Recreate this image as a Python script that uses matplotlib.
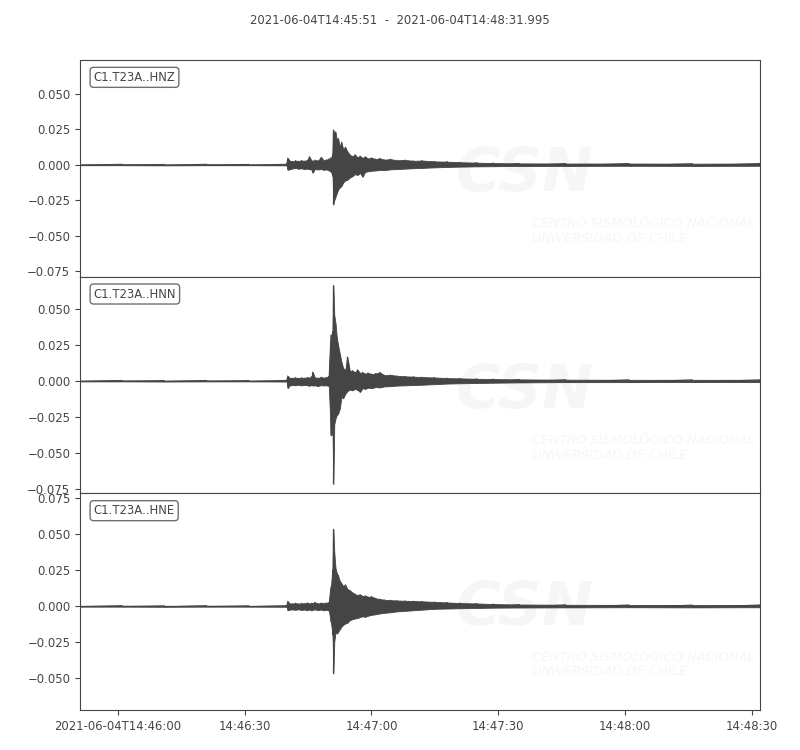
from datetime import datetime, timedelta

import matplotlib

matplotlib.use("Agg")
import matplotlib.dates as mdates
import matplotlib.pyplot as plt
import numpy as np
from matplotlib.ticker import FuncFormatter, MultipleLocator

# trace start and the knots of the envelope (seconds from start)
start_time = datetime(2021, 6, 4, 14, 45, 51)
title_text = "2021-06-04T14:45:51  -  2021-06-04T14:48:31.995"
channels = ["C1.T23A..HNZ", "C1.T23A..HNN", "C1.T23A..HNE"]

knot_seconds = [
    0, 10, 20, 30, 40, 48.9, 49.2, 49.6, 50.3, 51.0, 51.7, 52.4, 53.1, 53.8,
    54.3, 54.8, 55.1, 55.6, 56.3, 57.1, 57.7, 58.3, 58.9, 59.4, 59.8, 60.0,
    60.2, 60.5, 60.8, 61.1, 61.5, 61.9, 62.3, 62.8, 63.3, 63.9, 64.5, 65.1,
    65.7, 66.3, 66.9, 67.5, 68.2, 69.0, 70.0, 71.0, 72.0, 73.5, 75.0, 77.0,
    79.0, 81.0, 84.0, 87.0, 90.0, 94.0, 98.0, 104.0, 115.0, 130.0, 145.0, 161.0,
]

hnz_upper = [
    0.0003, 0.0004, 0.0003, 0.0004, 0.0003, 0.0004, 0.0048, 0.0030, 0.0024, 0.0030,
    0.0026, 0.0031, 0.0027, 0.0033, 0.0058, 0.0030, 0.0028, 0.0034, 0.0029, 0.0054,
    0.0031, 0.0036, 0.0042, 0.0050, 0.0070, 0.0246, 0.0215, 0.0232, 0.0170, 0.0188,
    0.0130, 0.0160, 0.0110, 0.0125, 0.0094, 0.0070, 0.0060, 0.0072, 0.0052, 0.0062,
    0.0048, 0.0058, 0.0044, 0.0050, 0.0040, 0.0046, 0.0036, 0.0040, 0.0032, 0.0034,
    0.0028, 0.0030, 0.0024, 0.0022, 0.0018, 0.0015, 0.0012, 0.0010, 0.0009, 0.0009,
    0.0008, 0.0009,
]
hnz_lower = [
    -0.0003, -0.0003, -0.0004, -0.0003, -0.0003, -0.0004, -0.0036, -0.0032, -0.0026, -0.0022,
    -0.0028, -0.0025, -0.0030, -0.0027, -0.0031, -0.0034, -0.0056, -0.0029, -0.0033, -0.0030,
    -0.0036, -0.0032, -0.0040, -0.0048, -0.0080, -0.0280, -0.0250, -0.0225, -0.0200, -0.0175,
    -0.0160, -0.0150, -0.0125, -0.0110, -0.0106, -0.0090, -0.0080, -0.0066, -0.0072, -0.0058,
    -0.0085, -0.0050, -0.0046, -0.0042, -0.0040, -0.0036, -0.0038, -0.0032, -0.0030, -0.0027,
    -0.0024, -0.0022, -0.0018, -0.0015, -0.0013, -0.0011, -0.0010, -0.0008, -0.0008, -0.0007,
    -0.0008, -0.0007,
]

hnn_upper = [
    0.0003, 0.0004, 0.0003, 0.0004, 0.0003, 0.0004, 0.0035, 0.0022, 0.0020, 0.0024,
    0.0019, 0.0023, 0.0021, 0.0025, 0.0022, 0.0030, 0.0062, 0.0024, 0.0021, 0.0027,
    0.0022, 0.0026, 0.0030, 0.0317, 0.0340, 0.0660, 0.0456, 0.0400, 0.0300, 0.0250,
    0.0190, 0.0132, 0.0090, 0.0075, 0.0167, 0.0068, 0.0072, 0.0060, 0.0078, 0.0055,
    0.0060, 0.0050, 0.0056, 0.0048, 0.0052, 0.0060, 0.0040, 0.0042, 0.0036, 0.0032,
    0.0030, 0.0027, 0.0024, 0.0020, 0.0018, 0.0015, 0.0013, 0.0011, 0.0009, 0.0008,
    0.0008, 0.0008,
]
hnn_lower = [
    -0.0003, -0.0003, -0.0004, -0.0003, -0.0003, -0.0004, -0.0049, -0.0032, -0.0028, -0.0030,
    -0.0026, -0.0031, -0.0027, -0.0030, -0.0033, -0.0028, -0.0032, -0.0030, -0.0035, -0.0029,
    -0.0031, -0.0030, -0.0034, -0.0377, -0.0360, -0.0713, -0.0300, -0.0260, -0.0235, -0.0227,
    -0.0192, -0.0110, -0.0120, -0.0090, -0.0070, -0.0060, -0.0065, -0.0055, -0.0062, -0.0076,
    -0.0050, -0.0055, -0.0046, -0.0050, -0.0042, -0.0045, -0.0038, -0.0036, -0.0032, -0.0030,
    -0.0028, -0.0026, -0.0022, -0.0018, -0.0016, -0.0014, -0.0012, -0.0010, -0.0008, -0.0008,
    -0.0007, -0.0008,
]

hne_upper = [
    0.0003, 0.0004, 0.0003, 0.0004, 0.0003, 0.0004, 0.0035, 0.0020, 0.0018, 0.0022,
    0.0017, 0.0021, 0.0019, 0.0024, 0.0018, 0.0022, 0.0020, 0.0028, 0.0019, 0.0023,
    0.0020, 0.0024, 0.0026, 0.0134, 0.0250, 0.0535, 0.0377, 0.0264, 0.0230, 0.0215,
    0.0175, 0.0160, 0.0140, 0.0150, 0.0120, 0.0110, 0.0095, 0.0085, 0.0076, 0.0082,
    0.0070, 0.0074, 0.0065, 0.0068, 0.0055, 0.0050, 0.0045, 0.0042, 0.0040, 0.0038,
    0.0036, 0.0034, 0.0030, 0.0026, 0.0022, 0.0019, 0.0015, 0.0012, 0.0010, 0.0009,
    0.0008, 0.0009,
]
hne_lower = [
    -0.0003, -0.0003, -0.0004, -0.0003, -0.0003, -0.0004, -0.0028, -0.0024, -0.0022, -0.0025,
    -0.0021, -0.0026, -0.0023, -0.0028, -0.0022, -0.0030, -0.0024, -0.0022, -0.0027, -0.0023,
    -0.0029, -0.0024, -0.0030, -0.0109, -0.0200, -0.0467, -0.0248, -0.0178, -0.0190, -0.0180,
    -0.0160, -0.0143, -0.0130, -0.0120, -0.0115, -0.0097, -0.0090, -0.0085, -0.0082, -0.0075,
    -0.0070, -0.0074, -0.0066, -0.0060, -0.0056, -0.0050, -0.0046, -0.0042, -0.0036, -0.0032,
    -0.0028, -0.0024, -0.0018, -0.0016, -0.0014, -0.0012, -0.0010, -0.0009, -0.0008, -0.0007,
    -0.0008, -0.0007,
]

y_limits = [(-0.0789, 0.0739), (-0.0778, 0.0722), (-0.0722, 0.0785)]
x_tick_seconds = [9, 39, 69, 99, 129, 159]
x_tick_labels = ["2021-06-04T14:46:00", "14:46:30", "14:47:00", "14:47:30", "14:48:00", "14:48:30"]
end_seconds = 160.995

TRACE_COLOR = "#454545"
TEXT_COLOR = "#454545"
WATERMARK_COLOR = "#f6f6f6"
FONT_SIZE = 8.4


def to_dates(seconds):
    return mdates.date2num([start_time + timedelta(seconds=float(s)) for s in seconds])


def minus_formatter(value, _pos):
    return f"{value:.3f}".replace("-", "\u2212")


def draw_watermark(axis):
    axis.text(0.552, 0.47, "CSN", transform=axis.transAxes, fontsize=44,
              fontweight="bold", fontstyle="italic",
              color=WATERMARK_COLOR, ha="left", va="center", zorder=0, clip_on=True)
    axis.text(0.665, 0.21, "CENTRO SISMOLÓGICO NACIONAL\nUNIVERSIDAD DE CHILE",
              transform=axis.transAxes, fontsize=9.4, fontstyle="italic",
              color=WATERMARK_COLOR, ha="left", va="center", linespacing=1.15,
              zorder=0, clip_on=True)


def plot_trace(axis, upper, lower):
    dates = to_dates(knot_seconds)
    axis.fill_between(dates, lower, upper, color=TRACE_COLOR, linewidth=0.6, zorder=2)
    # zigzag between the peaks so the envelope looks like a waveform
    zig_x = np.repeat(dates, 2)
    zig_y = np.column_stack([upper, lower]).reshape(-1)
    axis.plot(zig_x, zig_y, color=TRACE_COLOR, linewidth=0.7, zorder=2)


def main():
    plt.rcParams["font.family"] = "DejaVu Sans"
    figure = plt.figure(figsize=(8, 7.5), dpi=100)
    figure.text(0.5, 0.972, title_text, ha="center", va="center",
                fontsize=FONT_SIZE, color=TEXT_COLOR)

    left, right, top, bottom = 0.1, 0.95, 0.92, 0.0533
    height = (top - bottom) / 3
    traces = [(hnz_upper, hnz_lower), (hnn_upper, hnn_lower), (hne_upper, hne_lower)]
    x_start, x_end = to_dates([0, end_seconds])

    for index, (channel, (upper, lower)) in enumerate(zip(channels, traces)):
        axis = figure.add_axes([left, top - (index + 1) * height, right - left, height])
        draw_watermark(axis)
        plot_trace(axis, upper, lower)

        axis.set_xlim(x_start, x_end)
        axis.set_ylim(*y_limits[index])
        axis.yaxis.set_major_locator(MultipleLocator(0.025))
        axis.yaxis.set_major_formatter(FuncFormatter(minus_formatter))
        axis.tick_params(colors=TEXT_COLOR, labelsize=FONT_SIZE)
        for spine in axis.spines.values():
            spine.set_color(TEXT_COLOR)

        if index == len(channels) - 1:
            axis.set_xticks(to_dates(x_tick_seconds))
            axis.set_xticklabels(x_tick_labels)
        else:
            axis.set_xticks([])

        axis.text(0.02, 0.92, channel, transform=axis.transAxes, fontsize=FONT_SIZE,
                  color=TEXT_COLOR, ha="left", va="center", zorder=5,
                  bbox=dict(boxstyle="round,pad=0.3", facecolor="white",
                            edgecolor="#707070", linewidth=1.0))

    figure.savefig("out.png", dpi=100)
    plt.close(figure)


if __name__ == "__main__":
    main()
